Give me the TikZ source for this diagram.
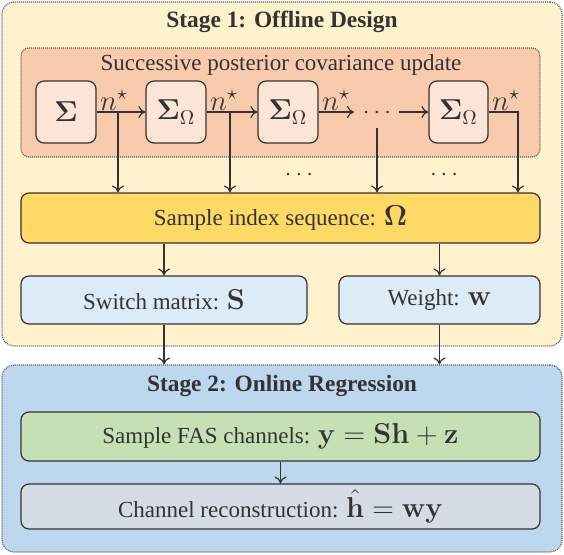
\documentclass[tikz,border=0pt]{standalone}
\usepackage{amsmath}
\usepackage[no-math]{fontspec}
\setmainfont{Liberation Serif}
\usetikzlibrary{arrows.meta,calc}
\definecolor{stageA}{HTML}{FFF2CC}
\definecolor{stageB}{HTML}{BDD7EE}
\definecolor{orng}{HTML}{F8CBAD}
\definecolor{peach}{HTML}{FCE4D6}
\definecolor{yel}{HTML}{FFD966}
\definecolor{lblue}{HTML}{DDEBF7}
\definecolor{grn}{HTML}{C5E0B4}
\definecolor{gry}{HTML}{D6DCE4}
\definecolor{edge}{HTML}{333333}
\newcommand\mymath[1]{{\fontsize{14}{16}\selectfont$#1$}}
\tikzset{
  stagebox/.style={draw=edge!80, line width=0.6pt, dash pattern=on 0.5pt off 0.5pt, rounded corners=6pt, inner sep=0pt},
  grpbox/.style={draw=edge!80, line width=0.6pt, dash pattern=on 0.5pt off 0.5pt, rounded corners=4pt, inner sep=0pt},
  blk/.style={draw=edge, line width=0.6pt, rounded corners=4pt, inner sep=0pt, align=center},
  arr/.style={draw=edge, line width=0.6pt, -{To[length=3.5pt,width=6pt]}},
  nlab/.style={pos=0, anchor=south west, inner sep=0.5pt, xshift=1pt},
}
\begin{document}
\begin{tikzpicture}[x=0.5pt,y=-0.5pt, font=\fontsize{11.5}{13}\selectfont, text=edge]
\useasboundingbox (0,0) rectangle (564,554);
% Stage 1
\node[stagebox, fill=stageA, minimum width=280pt, minimum height=172pt] (stage1) at (282,174) {};
\node[font=\fontsize{11.7}{13}\selectfont\bfseries] (t1) at (282,22) {Stage 1: Offline Design};
\node[grpbox, fill=orng, minimum width=259.5pt, minimum height=54.5pt] (grp) at (280.5,102.5) {};
\node (gt) at (281,65) {Successive posterior covariance update};
\node[blk, fill=peach, minimum width=30pt, minimum height=31pt] (b1) at (66,112) {\mymath{\mathbf{\Sigma}}};
\node[blk, fill=peach, minimum width=30pt, minimum height=31pt] (b2) at (176,112) {\mymath{\mathbf{\Sigma}_{\Omega}}};
\node[blk, fill=peach, minimum width=30pt, minimum height=31pt] (b3) at (288,112) {\mymath{\mathbf{\Sigma}_{\Omega}}};
\node[blk, fill=peach, minimum width=29.5pt, minimum height=31pt] (b4) at (458.5,112) {\mymath{\mathbf{\Sigma}_{\Omega}}};
\node[inner sep=0pt] (dd) at (379,113) {$\cdots$};
\node[inner sep=0pt] (dl1) at (301,175) {$\cdots$};
\node[inner sep=0pt] (dl2) at (446,175) {$\cdots$};
\coordinate (d1) at (354,112);
\coordinate (d2) at (399,112);
\coordinate (j1) at (118,112);
\coordinate (j2) at (230,112);
\coordinate (j3) at (377,128);
\coordinate (j4) at (518,112);
\node[blk, fill=yel, minimum width=259.5pt, minimum height=25pt] (seq) at (280.5,218) {Sample index sequence: \mymath{\mathbf{\Omega}}};
\node[blk, fill=lblue, minimum width=143pt, minimum height=24pt] (sw) at (164,300) {Switch matrix: \mymath{\mathbf{S}}};
\node[blk, fill=lblue, minimum width=100.5pt, minimum height=24pt] (wt) at (439.5,300) {Weight: \mymath{\mathbf{w}}};
% arrows in stage 1
\draw[arr] (b1.east) -- node[nlab] {\mymath{n^{\star}}} (b2.west);
\draw[arr] (b2.east) -- node[nlab] {\mymath{n^{\star}}} (b3.west);
\draw[arr] (b3.east) -- node[nlab] {\mymath{n^{\star}}} (d1);
\draw[arr] (d2) -- (b4.west);
\draw[arr] (b4.east) -- node[nlab] {\mymath{n^{\star}}} (j4) -- (j4 |- seq.north);
\draw[arr] (j1) -- (j1 |- seq.north);
\draw[arr] (j2) -- (j2 |- seq.north);
\draw[arr] (j3) -- (j3 |- seq.north);
\draw[arr] (sw.north |- seq.south) -- (sw.north);
\draw[arr] (wt.north |- seq.south) -- (wt.north);
% Stage 2
\node[stagebox, fill=stageB, minimum width=280pt, minimum height=93.5pt] (stage2) at (282,458.5) {};
\node[font=\fontsize{11.7}{13}\selectfont\bfseries] (t2) at (282,386) {Stage 2: Online Regression};
\node[blk, fill=grn, minimum width=259.5pt, minimum height=24.5pt] (fas) at (280.5,436.5) {Sample FAS channels: \mymath{\mathbf{y}=\mathbf{S}\mathbf{h}+\mathbf{z}}};
\node[blk, fill=gry, minimum width=259.5pt, minimum height=22.5pt] (rec) at (280.5,506.5) {Channel reconstruction: \mymath{\hat{\mathbf{h}}=\mathbf{w}\mathbf{y}}};
\draw[arr] (sw.south) -- (sw.south |- stage2.north);
\draw[arr] (wt.south) -- (wt.south |- stage2.north);
\draw[arr] (fas.south) -- (rec.north);
\end{tikzpicture}
\end{document}
